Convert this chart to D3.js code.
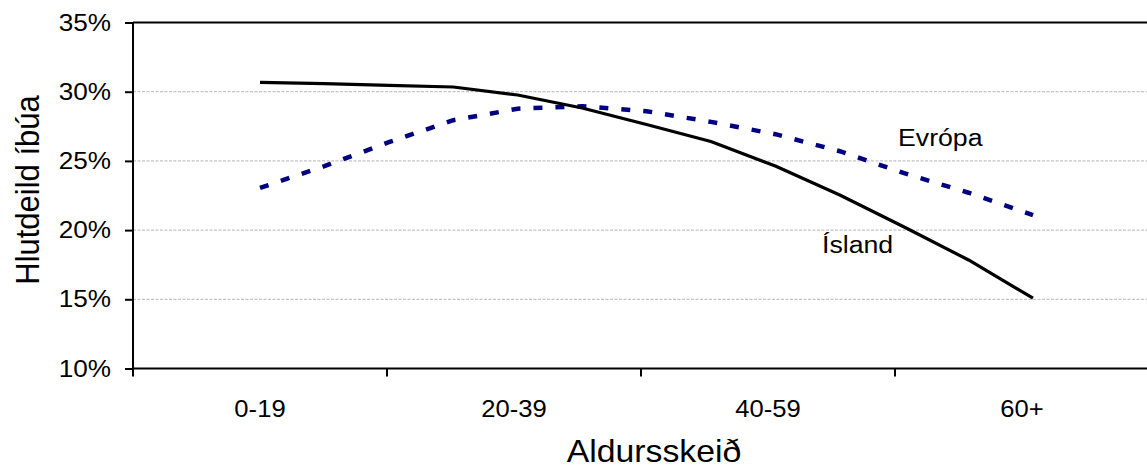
<!DOCTYPE html>
<html>
<head>
<meta charset="utf-8">
<script src="https://cdn.jsdelivr.net/npm/d3@7"></script>
<style>
  body { margin: 0; background: #fff; }
  svg { display: block; font-family: "Liberation Sans", Arial, sans-serif; }
  .grid line { stroke: #c4c4c4; stroke-width: 1.2; stroke-dasharray: 3,1.5; }
  .yaxis text { font-size: 24px; fill: #000; }
  .yaxis line, .yaxis path { stroke: #000; stroke-width: 2; }
  .xlab { font-size: 23.5px; fill: #000; }
  .lab { font-size: 24.5px; fill: #000; }
  .title { font-size: 31px; fill: #000; }
</style>
</head>
<body>
<svg width="1147" height="468"></svg>
<script>
// age groups on the x axis
const categories = ['0-19', '20-39', '40-59', '60+'];
const yTicks = [10, 15, 20, 25, 30, 35];

// share of population (%), 13 points along the age range
const island = [30.68, 30.58, 30.46, 30.34, 29.76, 28.82, 27.63, 26.40, 24.63, 22.54, 20.22, 17.84, 15.08];
const evropa = [23.05, 24.62, 26.35, 27.94, 28.77, 28.95, 28.59, 27.82, 26.93, 25.70, 24.11, 22.70, 21.08];

const svg = d3.select('svg');
const plotLeft = 133, plotTop = 22.5, plotBottom = 368.5, plotRight = 1147;
const stretch = 1.09; // the original text is a bit wide

const y = d3.scaleLinear().domain([10, 35]).range([plotBottom, plotTop]);
const xBand = d3.scaleBand().domain(categories).range([plotLeft, 1149]);
const xPt = d3.scalePoint().domain(d3.range(island.length)).range([260, 1033]);

// gridlines
svg.append('g').attr('class', 'grid')
  .selectAll('line')
  .data(yTicks.filter(d => d > 10 && d < 35))
  .enter().append('line')
  .attr('x1', plotLeft).attr('x2', plotRight)
  .attr('y1', d => y(d)).attr('y2', d => y(d));

// top border
svg.append('line')
  .attr('x1', plotLeft).attr('x2', plotRight)
  .attr('y1', y(35)).attr('y2', y(35))
  .attr('stroke', '#000').attr('stroke-width', 2);

// y axis
svg.append('g')
  .attr('class', 'yaxis')
  .attr('transform', `translate(${plotLeft},0)`)
  .call(d3.axisLeft(y).tickValues(yTicks).tickFormat(d => d + '%').tickSize(8))
  .call(g => g.select('.domain').attr('d', `M0,${plotTop}V${plotBottom + 8}`))
  .call(g => g.selectAll('.tick text')
    .attr('x', -22 / stretch)
    .attr('transform', `scale(${stretch},1)`));

// x axis
svg.append('line')
  .attr('x1', plotLeft).attr('x2', plotRight)
  .attr('y1', plotBottom).attr('y2', plotBottom)
  .attr('stroke', '#000').attr('stroke-width', 2);

svg.append('g').selectAll('line')
  .data(categories.slice(1))
  .enter().append('line')
  .attr('x1', d => xBand(d)).attr('x2', d => xBand(d))
  .attr('y1', plotBottom).attr('y2', plotBottom + 8)
  .attr('stroke', '#000').attr('stroke-width', 2);

svg.append('g').selectAll('text')
  .data(categories)
  .enter().append('text')
  .attr('class', 'xlab')
  .attr('transform', d => `translate(${xBand(d) + xBand.bandwidth() / 2},417) scale(${stretch},1)`)
  .attr('text-anchor', 'middle')
  .text(d => d);

// lines
const line = d3.line()
  .x((d, i) => xPt(i))
  .y(d => y(d));

svg.append('path')
  .datum(evropa)
  .attr('fill', 'none')
  .attr('stroke', '#000080')
  .attr('stroke-width', 4.5)
  .attr('stroke-dasharray', '9,13')
  .attr('d', line);

svg.append('path')
  .datum(island)
  .attr('fill', 'none')
  .attr('stroke', '#000')
  .attr('stroke-width', 3.2)
  .attr('stroke-linejoin', 'round')
  .attr('d', line);

// series labels
svg.append('text').attr('class', 'lab')
  .attr('transform', `translate(898,146) scale(${stretch},1)`).text('Evrópa');
svg.append('text').attr('class', 'lab')
  .attr('transform', `translate(822,253) scale(${stretch},1)`).text('Ísland');

// axis titles
svg.append('text').attr('class', 'title')
  .attr('transform', `translate(654,462) scale(${stretch},1)`)
  .attr('text-anchor', 'middle')
  .text('Aldursskeið');

svg.append('text').attr('class', 'title')
  .attr('transform', `translate(39,190) scale(${stretch},1) rotate(-90)`)
  .attr('text-anchor', 'middle')
  .text('Hlutdeild íbúa');
</script>
</body>
</html>
